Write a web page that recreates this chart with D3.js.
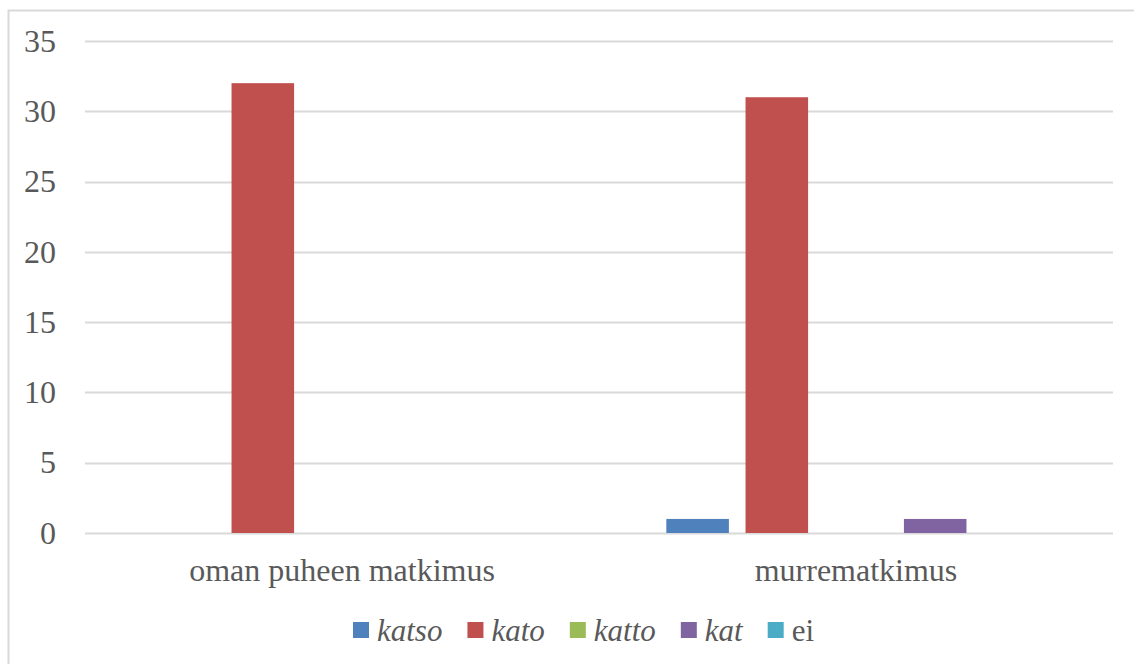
<!DOCTYPE html>
<html>
<head>
<meta charset="utf-8">
<script src="https://cdn.jsdelivr.net/npm/d3@7"></script>
<style>
  html, body { margin: 0; padding: 0; background: #fff; }
  svg { display: block; }
  svg text { font-family: "Liberation Serif", "Times New Roman", Tinos, "DejaVu Serif", serif; }
</style>
</head>
<body>
<svg id="chart" width="1134" height="664"></svg>
<script>
// Chart data
const categories = ["oman puheen matkimus", "murrematkimus"];
const seriesNames = ["katso", "kato", "katto", "kat", "ei"];
const seriesItalic = [true, true, true, true, false];
const seriesColors = ["#4F81BD", "#C0504D", "#9BBB59", "#8064A2", "#4BACC6"];
const values = {
  "katso": [0, 1],
  "kato":  [32, 31],
  "katto": [0, 0],
  "kat":   [0, 1],
  "ei":    [0, 0]
};
const yTicks = [0, 5, 10, 15, 20, 25, 30, 35];

const W = 1134, H = 664;
const margin = { left: 85, right: 21, top: 41, bottom: 131 };
const textColor = "#595959";
const gridColor = "#D9D9D9";

const svg = d3.select("#chart");

// Outer chart-area frame
svg.append("rect")
  .attr("x", 8.5).attr("y", 10.5)
  .attr("width", W).attr("height", H)
  .attr("fill", "none").attr("stroke", gridColor).attr("stroke-width", 2);

const x0 = d3.scaleBand()
  .domain(categories)
  .range([margin.left, W - margin.right])
  .paddingInner(0).paddingOuter(0);

const outerGap = x0.bandwidth() * 0.131;
const x1 = d3.scaleBand()
  .domain(seriesNames)
  .range([outerGap, x0.bandwidth() - outerGap])
  .paddingInner(0.21).paddingOuter(0);

const y = d3.scaleLinear()
  .domain([0, 35])
  .range([H - margin.bottom, margin.top]);

// Horizontal gridlines
svg.append("g")
  .selectAll("line")
  .data(yTicks)
  .join("line")
  .attr("x1", margin.left).attr("x2", W - margin.right)
  .attr("y1", d => Math.round(y(d)) + 0.5).attr("y2", d => Math.round(y(d)) + 0.5)
  .attr("stroke", gridColor).attr("stroke-width", 2);

// Y axis tick labels
const yAxis = d3.axisLeft(y).tickValues(yTicks).tickSize(0).tickPadding(29);
const gy = svg.append("g")
  .attr("transform", `translate(${margin.left},0)`)
  .call(yAxis);
gy.attr("font-family", null);
gy.select(".domain").remove();
gy.selectAll("text")
  .style("font-size", "32px")
  .attr("fill", textColor);

// Bars
const groups = svg.append("g")
  .selectAll("g")
  .data(categories)
  .join("g")
  .attr("transform", d => `translate(${x0(d)},0)`);

groups.selectAll("rect")
  .data((c, i) => seriesNames.map((s, k) => ({ s, k, v: values[s][i] })))
  .join("rect")
  .attr("x", d => x1(d.s))
  .attr("width", x1.bandwidth())
  .attr("y", d => y(d.v))
  .attr("height", d => y(0) - y(d.v))
  .attr("fill", d => seriesColors[d.k]);

// Category axis labels
const xAxis = d3.axisBottom(x0).tickSize(0).tickPadding(0);
const gx = svg.append("g")
  .attr("transform", `translate(0,${y(0)})`)
  .call(xAxis);
gx.attr("font-family", null);
gx.select(".domain").remove();
gx.selectAll("text")
  .style("font-size", "32px")
  .attr("fill", textColor)
  .attr("dy", null)
  .attr("y", 48);

// Legend
const legend = svg.append("g");
const legendY = 641;
const sq = 16, sqGap = 8, itemGap = 25;
const items = legend.selectAll("g")
  .data(seriesNames)
  .join("g");
items.append("rect")
  .attr("width", sq).attr("height", sq)
  .attr("y", legendY - 19)
  .attr("fill", (d, i) => seriesColors[i]);
items.append("text")
  .attr("x", sq + sqGap)
  .attr("y", legendY)
  .style("font-size", "31px")
  .style("font-style", (d, i) => seriesItalic[i] ? "italic" : "normal")
  .attr("fill", textColor)
  .text(d => d);

let offsets = [], cursor = 0;
items.each(function () {
  offsets.push(cursor);
  const w = this.querySelector("text").getComputedTextLength();
  cursor += sq + sqGap + w + itemGap;
});
const startX = 353;
items.attr("transform", (d, i) => `translate(${startX + offsets[i]},0)`);
</script>
</body>
</html>
